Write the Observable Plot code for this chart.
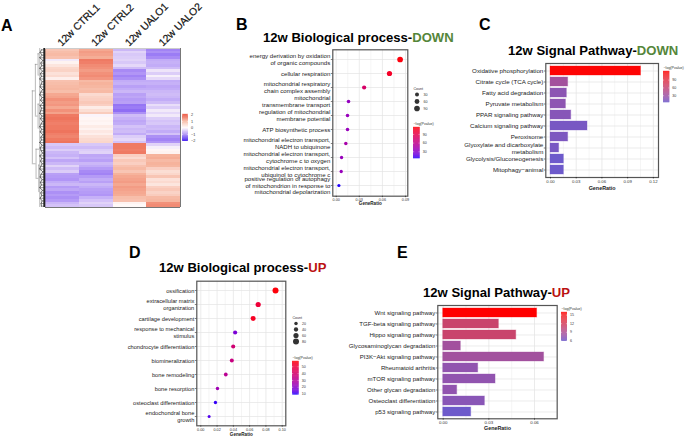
<!DOCTYPE html>
<html><head><meta charset="utf-8">
<script src="https://cdn.jsdelivr.net/npm/d3@7"></script>
<script src="https://cdn.jsdelivr.net/npm/@observablehq/plot@0.6"></script>
<style>
html,body{margin:0;padding:0;background:#fff}
#page{position:relative;width:685px;height:437px;overflow:hidden;font-family:"Liberation Sans",Arial,sans-serif}
.t{position:absolute;white-space:nowrap;font-weight:bold;color:#000;line-height:1}
</style></head><body><div id="page"></div>
<script>
const FONT = '"Liberation Sans",Arial,sans-serif';
// Panel A
const sampleNames = ["12w CTRL1","12w CTRL2","12w UALO1","12w UALO2"];
const ctrl1 = [.75,.85,.9,.8,-.15,.1,.3,.5,.55,.35,.45,.15,.8,.85,.9,.95,.85,1.1,1.15,1.3,1.2,1.25,1.1,1.3,1.15,1.5,1.55,1.5,1.45,1.5,1.5,1.55,1.45,1.4,1.5,1.55,-.45,-.55,-.4,-.6,-.65,-.5,-.75,-.6,-.35,-.55,-.4,-.8,-.85,-.9,-.7,-.6,-.85,-.75,-.95,-.85,-.95,-.85,-.6,-.5];
const ctrl2 = [1.1,1.2,1.15,1.05,1.5,1.45,1.35,1.3,1.2,1.3,1.35,1.25,.9,1,.95,.85,.9,.45,.55,.6,.7,.6,.2,.4,.65,-.05,.05,.1,.05,.2,.1,.25,.15,.35,.45,.5,-.45,-.55,-.4,-.35,-.75,-.7,-.8,-.6,-.7,-.85,-1,-1.05,-.85,-.7,-.8,-.6,-.7,-.8,-.85,-.9,-.65,-.5,-.35,-.45];
const ualo1 = [-.6,-.35,-.45,-.4,-.35,-.45,-.3,-.55,-1,-.9,-1.05,-.95,-.7,-.65,-.8,-.7,-.6,-.8,-.75,-.85,-.8,-1.15,-1.1,-1.2,-.95,-.55,-.65,-.75,-.7,-.5,-.6,-.55,-.7,-.4,-.3,-.5,1.5,1.5,1.45,1.5,.6,.45,.7,.6,.8,.9,.75,1,1.1,1.15,1.2,1.1,1.2,1.15,1.1,1.05,.85,.8,.1,.02];
const ualo2 = [-1.05,-.95,-1.1,-1,-.7,-.65,-.7,-.55,-.2,-.4,-.1,-.3,-.7,-.65,-.75,-.7,-.6,-.55,-.6,-.7,-.55,-.25,-.4,-.15,-.3,-.15,-.4,-.5,-.45,-.6,-.55,-.7,-.5,-.95,-1.05,-.9,-.35,-.1,.05,.1,1,1.05,.9,1,.95,.6,.4,.5,.75,.35,.45,.3,.6,.7,.55,.65,.9,.95,1.3,1.35];
const heatColumns = [ctrl1,ctrl2,ualo1,ualo2];
const heatDomain = [-2,-1,0,1,2];
const heatRange = ["#2a00f0","#a88af5","#fffafa","#f6b39c","#e8402a"];
const leafLength = [.12,.16,.1,.17,.08,.14,.11,.17,.09,.15,.12,.17,.1,.13,.16,.09,.14,.17,.1,.15,.08,.16,.12,.14,.17,.1,.15,.09,.13,.17,.11,.16,.08,.14,.12,.17,.1,.16,.13,.09,.17,.11,.15,.1,.14,.17,.08,.13,.16,.1,.15,.12,.17,.09,.14,.11,.16,.1,.13,.12];
const dendroV = [[2,10,.22],[21,30,.22],[6,25.5,.3],[44,54,.2],[38,49,.28],[16,43.5,.39],[0,4,.17],[4,17,.17],[17,25,.17],[25,36,.17],[36,40,.17],[40,48,.17],[48,60,.17]];
const dendroH = [[2,.22,.17],[10,.22,.17],[21,.22,.17],[30,.22,.17],[6,.3,.22],[25.5,.3,.22],[44,.2,.17],[54,.2,.17],[38,.28,.17],[49,.28,.2],[16,.39,.3],[43.5,.39,.28]];
// Panel B
const bpDownTerms = ["energy derivation by oxidation\nof organic compounds","cellular respiration","mitochondrial respiratory\nchain complex assembly","mitochondrial\ntransmembrane transport","regulation of mitochondrial\nmembrane potential","ATP biosynthetic process","mitochondrial electron transport,\nNADH to ubiquinone","mitochondrial electron transport,\ncytochrome c to oxygen","mitochondrial electron transport,\nubiquinol to cytochrome c","positive regulation of autophagy\nof mitochondrion in response to\nmitochondrial depolarization"];
const bpDownRatio = [.083,.0692,.0363,.016,.0147,.0147,.0125,.007,.0065,.0035];
const bpDownCount = [91,75,39,17,16,16,14,8,7,4];
const bpDownLogP = [112,104,76,34,36,36,44,36,36,7];
// Panel C
const spDownTerms = ["Oxidative phosphorylation","Citrate cycle (TCA cycle)","Fatty acid degradation","Pyruvate metabolism","PPAR signaling pathway","Calcium signaling pathway","Peroxisome","Glyoxylate and dicarboxylate\nmetabolism","Glycolysis/Gluconeogenesis","Mitophagy−animal"];
const spDownRatio = [.1056,.0206,.0191,.018,.0242,.0432,.0206,.0101,.0156,.0156];
const spDownLogP = [122,33,19,20,16,9,11,9,4,4];
// Panel D
const bpUpTerms = ["ossification","extracellular matrix\norganization","cartilage development","response to mechanical\nstimulus","chondrocyte differentiation","biomineralization","bone remodeling","bone resorption","osteoclast differentiation","endochondral bone\ngrowth"];
const bpUpRatio = [.0918,.0705,.0643,.0422,.0398,.0381,.0307,.0205,.018,.0102];
const bpUpCount = [80,61,56,37,35,33,27,18,16,9];
const bpUpLogP = [57,50,54,17,38,35,31,24,10,12];
// Panel E
const spUpTerms = ["Wnt signaling pathway","TGF-beta signaling pathway","Hippo signaling pathway","Glycosaminoglycan degradation","PI3K−Akt signaling pathway","Rheumatoid arthritis","mTOR signaling pathway","Other glycan degradation","Osteoclast differentiation","p53 signaling pathway"];
const spUpRatio = [.0617,.0366,.048,.0116,.0663,.023,.0344,.0092,.0274,.0184];
const spUpLogP = [15.9,11,11,8.3,8.3,7.4,7.4,7.4,7,5.9];

const page = document.getElementById("page");
function put(svg,left,top){svg.style.position="absolute";svg.style.left=left+"px";svg.style.top=top+"px";svg.style.maxWidth="none";svg.style.background="transparent";page.appendChild(svg);return svg;}
function label(html,left,baseline,size,spacing){const d=document.createElement("div");d.className="t";d.innerHTML=html;d.style.left=left+"px";d.style.top=(baseline-size*0.846)+"px";d.style.fontSize=size+"px";if(spacing)d.style.letterSpacing=spacing+"px";page.appendChild(d);}
const DOWN='<span style="color:#55863a">DOWN</span>',UP='<span style="color:#bb1111">UP</span>';

function panel(o){
  const k=o.pxPerUnit, ml=o.x0-o.left, mt=o.y0-o.top, w=o.x1-o.x0, h=o.y1-o.y0, mb=18;
  return {
    width:ml+w+3,height:mt+h+mb,marginLeft:ml,marginRight:3,marginTop:mt,marginBottom:mb,
    style:{fontFamily:FONT,background:"transparent",overflow:"visible"},
    x:{domain:[(o.x0-o.zero)/k,(o.x1-o.zero)/k],label:null},
    r:o.r,color:o.color,
    marksBase:[
      Plot.ruleX(o.minor,{stroke:"#efefef",strokeWidth:.6}),
      Plot.ruleX(o.ticks,{stroke:"#e2e2e2",strokeWidth:.7}),
      Plot.gridY({stroke:"#e2e2e2",strokeOpacity:1,strokeWidth:.7})
    ],
    marksTop:[
      Plot.frame({stroke:"#555",strokeWidth:1.2}),
      Plot.axisX({ticks:o.ticks,tickFormat:d3.format(".2f"),tickSize:1.5,tickPadding:1,fontSize:o.tickFont,label:null,strokeWidth:.5,fill:"#333"}),
      Plot.axisY({tickSize:1.5,tickPadding:1,fontSize:o.yFont,label:null,lineHeight:o.lineHeight,strokeWidth:.5,fill:"#222"}),
      Plot.text(["GeneRatio"],{frameAnchor:"bottom",dy:o.labelDy,fontSize:o.labelFont,fontWeight:"bold",fill:"#222"})
    ]
  };
}
function dotPanel(o,terms,ratio,count,logp){
  const rows=terms.map((t,i)=>({t,x:ratio[i],c:count[i],p:logp[i]}));
  const c=panel(o);
  return put(Plot.plot({...c,y:{type:"point",domain:terms,padding:.6,label:null},
    marks:[...c.marksBase,Plot.dot(rows,{x:"x",y:"t",r:"c",fill:"p",stroke:null}),...c.marksTop]}),o.left,o.top);
}
function barPanel(o,terms,ratio,logp){
  const rows=terms.map((t,i)=>({t,x:ratio[i],p:logp[i]}));
  const c=panel(o);
  return put(Plot.plot({...c,y:{type:"band",domain:terms,paddingInner:.2,paddingOuter:.19,label:null},
    marks:[...c.marksBase,Plot.barX(rows,{x:"x",y:"t",fill:"p",stroke:"p",strokeOpacity:.35,strokeWidth:1}),...c.marksTop]}),o.left,o.top);
}
function colorbar(o){
  const n=60;
  const span=(o.top2-o.top1);
  const vTop=o.vTop,vBot=o.vBot;
  const steps=d3.range(n).map(i=>({y1:vBot+(vTop-vBot)*i/n,y2:vBot+(vTop-vBot)*(i+1.3)/n,v:vBot+(vTop-vBot)*(i+.5)/n}));
  const W=o.w, mt=8;
  put(Plot.plot({width:W+30,height:span+mt+2,marginLeft:0,marginRight:30,marginTop:mt,marginBottom:2,
    style:{fontFamily:FONT,background:"transparent",overflow:"visible"},
    x:{domain:[0,1],axis:null},y:{domain:[vBot,vTop],axis:null},color:o.color,
    marks:[
      Plot.rect(steps,{x1:()=>0,x2:()=>1,y1:"y1",y2:"y2",fill:"v"}),
      Plot.ruleY(o.ticks,{x1:0,x2:.18,stroke:"#fff",strokeWidth:.4}),
      Plot.ruleY(o.ticks,{x1:.82,x2:1,stroke:"#fff",strokeWidth:.4}),
      Plot.text(o.ticks,{x:()=>1,y:d=>d,text:d=>String(d).replace("-","−"),textAnchor:"start",dx:o.dx||2.5,fontSize:o.font||3.6,fill:"#333"}),
      o.title?Plot.text([o.title],{x:()=>0,y:()=>vTop,textAnchor:"start",dy:-3.8,fontSize:3.6,fill:"#333"}):null
    ]}),o.left,o.top1-mt);
}
function sizeLegend(o){
  put(Plot.plot({width:34,height:o.step*o.counts.length+12,marginLeft:0,marginRight:0,marginTop:8,marginBottom:4,
    style:{fontFamily:FONT,background:"transparent",overflow:"visible"},
    x:{domain:[0,34],axis:null},y:{type:"point",domain:o.counts,padding:.5,axis:null},r:o.r,
    marks:[
      Plot.dot(o.counts,{x:()=>3.5,y:d=>d,r:d=>d,fill:"#333"}),
      Plot.text(o.counts,{x:()=>o.labelX,y:d=>d,text:d=>String(d),textAnchor:"start",fontSize:3.6,fill:"#333"}),
      Plot.text(["Count"],{x:()=>0,frameAnchor:"top",textAnchor:"start",dy:-3.5,fontSize:3.6,fill:"#333"})
    ]}),o.left,o.top);
}

// A: heatmap and dendrogram
const cells=heatColumns.flatMap((col,c)=>col.map((v,r)=>({c,r,v})));
const hx0=44.5, hy0=48, ml=30;
const heatColor={type:"linear",domain:heatDomain,range:heatRange,interpolate:"rgb"};
put(Plot.plot({width:ml+135+4,height:215,marginLeft:ml,marginRight:4,marginTop:hy0,marginBottom:8,
  style:{fontFamily:FONT,background:"transparent",overflow:"visible"},
  x:{domain:[0,4],axis:null},y:{domain:[0,60],reverse:true,axis:null},color:heatColor,
  marks:[
    Plot.rect(cells,{x1:"c",x2:d=>d.c+1,y1:"r",y2:d=>d.r+1,fill:"v",shapeRendering:"crispEdges"}),
    Plot.ruleX(dendroV,{x:d=>-d[2],y1:d=>d[0],y2:d=>d[1],stroke:"#8a8a8a",strokeWidth:.6}),
    Plot.ruleY(dendroH,{y:d=>d[0],x1:d=>-d[1],x2:d=>-d[2],stroke:"#8a8a8a",strokeWidth:.6}),
    Plot.line(leafLength,{x:d=>-d,y:(d,i)=>i+.5,stroke:"#333",strokeWidth:.7}),
    Plot.ruleY(leafLength,{y:(d,i)=>i+.5,x1:d=>-d,x2:0,stroke:"#333",strokeWidth:.5}),
    Plot.ruleX([-.035],{y1:0,y2:60,stroke:"#222",strokeWidth:2}),
    Plot.ruleY([0],{x1:0,x2:4,stroke:"#ccc",strokeWidth:1}),
    Plot.ruleY([60],{x1:0,x2:4,stroke:"#777",strokeWidth:1}),
    Plot.ruleX([4],{y1:0,y2:60,stroke:"#777",strokeWidth:1}),
    Plot.text(sampleNames,{x:(d,i)=>i+.38,y:()=>0,text:d=>d,rotate:-45,textAnchor:"start",dy:-4,dx:1,fontSize:10.4,fontWeight:500,fill:"#111",stroke:"#111",strokeWidth:.2})
  ]}),hx0-ml,0);
colorbar({left:182,top1:114,top2:141,w:6,vTop:2.05,vBot:-2.05,ticks:[2,1,0,-1,-2],color:heatColor,font:3.8});

const blueRed=(d)=>({type:"linear",domain:d,range:["blue","red"],interpolate:d3.interpolateLab,clamp:true});
const slateRed=(d)=>({type:"linear",domain:d,range:["slateblue","red"],interpolate:d3.interpolateLab,clamp:true});
const rB={type:"linear",domain:[4,91],range:[1.6,2.85]};
const rD={type:"linear",domain:[9,80],range:[1.5,3]};

// B
dotPanel({left:230,top:46,x0:332.3,x1:407.3,y0:49.3,y1:195.7,zero:335.7,pxPerUnit:770,ticks:[0,.03,.06,.09],minor:[.015,.045,.075],
  tickFont:3.8,yFont:6.1,lineHeight:1.05,labelFont:4.6,labelDy:8.8,r:rB,color:blueRed([5.7,114])},bpDownTerms,bpDownRatio,bpDownCount,bpDownLogP);
sizeLegend({left:412.8,top:82,step:7,counts:[30,60,90],r:rB,labelX:10});
colorbar({left:413,top1:127,top2:158.3,w:6.7,vTop:114,vBot:5.7,ticks:[90,60,30],color:blueRed([5.7,114]),title:"−log(Pvalue)"});
// C
barPanel({left:450,top:60,x0:545.3,x1:658,y0:63,y1:177,zero:550,pxPerUnit:857,ticks:[0,.03,.06,.09,.12],minor:[.015,.045,.075,.105],
  tickFont:4.3,yFont:6.2,lineHeight:1.1,labelFont:5.4,labelDy:12.2,color:slateRed([3,123])},spDownTerms,spDownRatio,spDownLogP);
colorbar({left:662.7,top1:71,top2:102.3,w:6.3,vTop:123,vBot:3,ticks:[90,60,30],color:slateRed([3,123]),title:"−log(Pvalue)"});
// D
dotPanel({left:90,top:277,x0:196.3,x1:285.3,y0:280.7,y1:425.3,zero:200.3,pxPerUnit:814,ticks:[0,.02,.04,.06,.08,.1],minor:[.01,.03,.05,.07,.09],
  tickFont:3.8,yFont:5.7,lineHeight:1.2,labelFont:4.6,labelDy:9.8,r:rD,color:blueRed([8.5,57.8])},bpUpTerms,bpUpRatio,bpUpCount,bpUpLogP);
sizeLegend({left:291.5,top:311,step:6.7,counts:[20,40,60,80],r:rD,labelX:9.5});
colorbar({left:292,top1:360.7,top2:394.3,w:6.7,vTop:57.8,vBot:8.5,ticks:[50,40,30,20,10],color:blueRed([8.5,57.8]),title:"−log(Pvalue)"});
// E
barPanel({left:340,top:302,x0:437.3,x1:556.7,y0:305,y1:418.3,zero:442.7,pxPerUnit:1522,ticks:[0,.03,.06],minor:[.015,.045],
  tickFont:4.4,yFont:6.1,lineHeight:1.1,labelFont:5.4,labelDy:11.5,color:slateRed([5.8,15.9])},spUpTerms,spUpRatio,spUpLogP);
colorbar({left:561,top1:312,top2:341,w:6,vTop:15.9,vBot:5.8,ticks:[15,12,9,6],color:slateRed([5.8,15.9]),title:"−log(Pvalue)"});

// titles and panel letters
label("12w Biological process-"+DOWN,263,41.7,13.1);
label("12w Signal Pathway-"+DOWN,508,55,13.1);
label("12w Biological process-"+UP,159,272,13.1);
label("12w Signal Pathway-"+UP,423,297,13.1);
label("A",1,32,16);label("B",236,31,16);label("C",479,31,16);label("D",129,259,16);label("E",397,259,16);
</script></body></html>
